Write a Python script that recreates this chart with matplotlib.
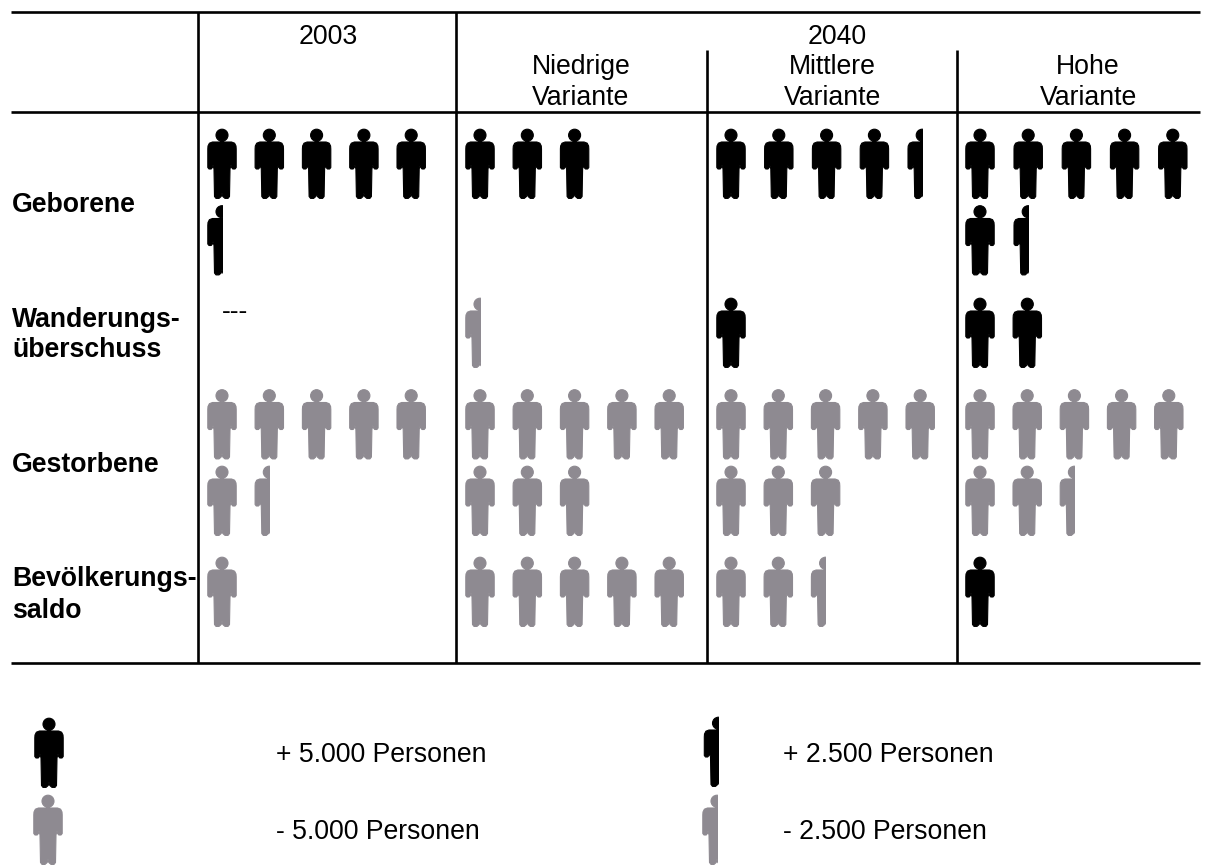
import matplotlib
matplotlib.use("Agg")
import matplotlib.pyplot as plt
from matplotlib.path import Path
from matplotlib.patches import PathPatch, Rectangle

plt.rcParams['font.family'] = ['Liberation Sans', 'DejaVu Sans']

# Data: change in persons per group and scenario
columns = ["2003", "Niedrige\nVariante", "Mittlere\nVariante", "Hohe\nVariante"]
rows = ["Geborene", "Wanderungs-\nüberschuss", "Gestorbene", "Bevölkerungs-\nsaldo"]
geborene = [27500, 15000, 22500, 32500]
wanderung = [0, -2500, 5000, 10000]
gestorbene = [-32500, -40000, -40000, -37500]
saldo = [-5000, -25000, -12500, 5000]
series = [geborene, wanderung, gestorbene, saldo]
unit = 5000
per_line = 5

BLACK = "#000000"
GREY = "#8E8A91"

fig = plt.figure(figsize=(12.09, 8.68), dpi=100)
ax = fig.add_axes([0, 0, 1, 1])
ax.set_xlim(0, 1209)
ax.set_ylim(868, 0)
ax.axis("off")

# Pictogram outline, right half, relative to (centre, top); mirrored below
half_outline = [(0.5, 13), (9.5, 13), (12.6, 14.2), (14.0, 17), (14.2, 20), (14.2, 38.5),
                (13, 40), (10.8, 40), (9.6, 38.5), (9.0, 36), (8.0, 40), (7.5, 67.5),
                (6, 69.4), (3, 69.4), (0.8, 67.5), (0, 64)]
left_outline = [(-x, y) for x, y in reversed(half_outline)]
body = Path(half_outline + left_outline + [half_outline[0]], closed=True)
head = Path.circle((0, 6.2), 6.0)
icon = Path.make_compound_path(body, head)


def person(cx, top, color, half=False):
    p = Path(icon.vertices + [cx, top], icon.codes)
    patch = PathPatch(p, facecolor=color, edgecolor=color, lw=0.8, joinstyle="round", zorder=3)
    ax.add_patch(patch)
    if half:
        clip = Rectangle((cx - 20, top - 3), 20.5, 78, transform=ax.transData)
        patch.set_clip_path(clip)


def draw_cell(value, x0, top, step, line_gap=76.5):
    n = abs(value) / unit
    full = int(n)
    color = BLACK if value > 0 else GREY
    has_half = n > full
    for i in range(full + int(has_half)):
        line, pos = divmod(i, per_line)
        person(x0 + pos * step, top + line * line_gap, color, half=(i == full))


col_x = [222, 480, 731, 980]
row_top = [129, 298, 389.5, 557]
row_steps = [[47.3, 47.3, 47.8, 48.2], [47.3] * 4, [47.3, 47.3, 47.3, 47.2], [47.3] * 4]
for values, top, steps in zip(series, row_top, row_steps):
    for v, x0, step in zip(values, col_x, steps):
        if v != 0:
            draw_cell(v, x0, top, step)

# Table rules
RULE = dict(color="black", lw=1.9, solid_capstyle="butt", zorder=2)
for y in (12, 112, 662.5):
    ax.plot([11, 1200], [y, y], **RULE)
ax.plot([198, 198], [12, 662.5], **RULE)
ax.plot([456, 456], [12, 662.5], **RULE)
ax.plot([707, 707], [50, 662.5], **RULE)
ax.plot([957, 957], [50, 662.5], **RULE)

FS = 19.2
# Headers
ax.text(328, 44, columns[0], ha="center", va="baseline", fontsize=FS)
ax.text(837, 44, "2040", ha="center", va="baseline", fontsize=FS)
for label, cx in zip(columns[1:], (581, 832, 1088)):
    a, b = label.split("\n")
    ax.text(cx, 74, a, ha="center", va="baseline", fontsize=FS)
    ax.text(cx, 105, b, ha="center", va="baseline", fontsize=FS)

# Row labels
label_base = [(212,), (327, 357), (472,), (586, 618)]
for label, bases in zip(rows, label_base):
    for part, y in zip(label.split("\n"), bases):
        ax.text(12, y, part, ha="left", va="baseline", fontsize=FS, fontweight="bold")

ax.text(222, 319, "---", ha="left", va="baseline", fontsize=FS)

# Legend
person(49, 718, BLACK)
person(48, 795, GREY)
person(718.5, 717, BLACK, half=True)
person(717, 795, GREY, half=True)
ax.text(276, 762, "+ 5.000 Personen", ha="left", va="baseline", fontsize=FS)
ax.text(276, 839, "- 5.000 Personen", ha="left", va="baseline", fontsize=FS)
ax.text(783, 762, "+ 2.500 Personen", ha="left", va="baseline", fontsize=FS)
ax.text(783, 839, "- 2.500 Personen", ha="left", va="baseline", fontsize=FS)

fig.savefig("out.png", dpi=100, facecolor="white")
